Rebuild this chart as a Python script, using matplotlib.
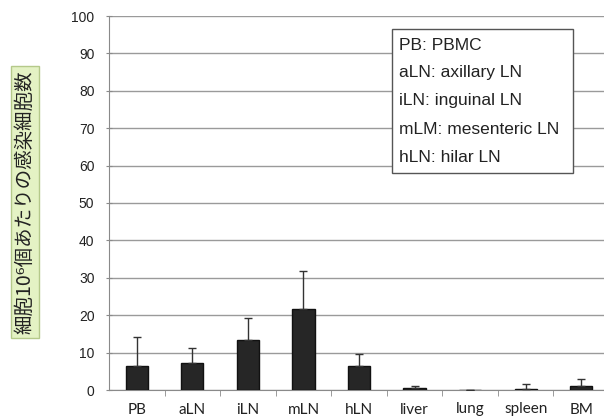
import numpy as np
import matplotlib
matplotlib.use("Agg")
import matplotlib.pyplot as plt

# values
tissues = ["PB", "aLN", "iLN", "mLN", "hLN", "liver", "lung", "spleen", "BM"]
means = [6.5, 7.3, 13.3, 21.7, 6.5, 0.5, 0.0, 0.4, 1.2]
errs = [7.6, 4.0, 5.9, 10.2, 3.0, 0.7, 0.0, 1.1, 1.8]
yticks = [0, 10, 20, 30, 40, 50, 60, 70, 80, 90, 100]
legend_lines = ["PB: PBMC", "aLN: axillary LN", "iLN: inguinal LN",
                "mLM: mesenteric LN", "hLN: hilar LN"]
ylabel = "細胞10⁶個あたりの感染細胞数"

W, H = 604, 418
fig = plt.figure(figsize=(W / 100, H / 100), dpi=100)
ax = fig.add_axes([109 / W, 1 - 390 / H, 500 / W, 374 / H])

x = np.arange(len(tissues))
ax.bar(x, means, width=0.4, color="#262626", edgecolor="#111111", zorder=3)
ax.errorbar(x, means, yerr=[np.zeros(len(errs)), errs], fmt="none",
            ecolor="#333333", elinewidth=1, capsize=3, capthick=1, zorder=4)

ax.set_xlim(-0.5, len(tissues) - 0.5)
ax.set_ylim(0, 100)
ax.set_yticks(yticks)
ax.yaxis.grid(True, color="#9a9a9a", lw=1)
ax.set_axisbelow(True)
for s in ["top", "right"]:
    ax.spines[s].set_visible(False)
ax.spines["left"].set_color("#8a8a8a")
ax.spines["bottom"].set_color("#8a8a8a")

ax.set_xticks(x)
ax.set_xticklabels(tissues, fontsize=11, family="Lato", color="#222222")
ax.tick_params(axis="x", length=0, pad=9)
ax.set_xticks(np.arange(0.5, len(tissues) - 0.5), minor=True)
ax.tick_params(axis="x", which="minor", length=4, direction="out", color="#8a8a8a")
ax.tick_params(axis="y", length=5, direction="inout", color="#8a8a8a",
               labelsize=10, labelcolor="#222222", pad=8)
for lab in ax.get_yticklabels():
    lab.set_family("Liberation Sans")

# legend-like text box
bx0, by0, bx1, by1 = 392, 29, 573, 173
fig.patches.append(plt.Rectangle((bx0 / W, 1 - by1 / H), (bx1 - bx0) / W,
                                 (by1 - by0) / H, transform=fig.transFigure,
                                 facecolor="white", edgecolor="#555555", lw=1, zorder=5))
for i, t in enumerate(legend_lines):
    fig.text(399 / W, 1 - (45 + 28 * i) / H, t, fontsize=12.5, family="Liberation Sans",
             color="#222222", va="center", ha="left", zorder=6)

# y label with green box
fig.text(25 / W, 1 - 202 / H, ylabel, rotation=90, ha="center", va="center",
         fontsize=14, family=["Noto Sans CJK JP", "DejaVu Sans"], color="#222222",
         bbox=dict(boxstyle="square,pad=0.2", facecolor="#e4f2c4", edgecolor="#b5c98a", lw=1))

fig.savefig("out.png", dpi=100)
